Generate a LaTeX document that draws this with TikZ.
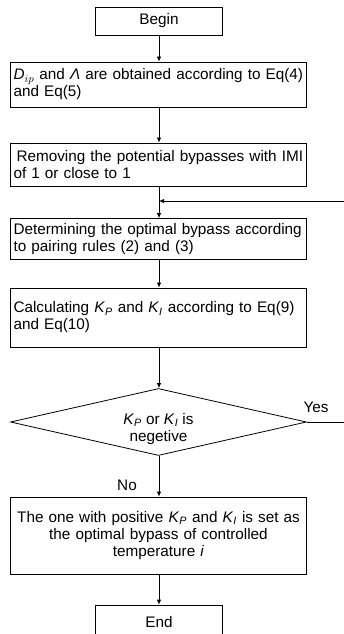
\documentclass[tikz,border=0pt]{standalone}
\usepackage{fontspec}
\setmainfont{Liberation Sans}
\usetikzlibrary{shapes.geometric,arrows.meta}
\begin{document}
\begin{tikzpicture}[x=1pt,y=-1pt,
  font=\fontsize{15.3}{17}\selectfont,
  every node/.style={inner sep=0pt},
  box/.style={draw, line width=0.8pt, text width=290pt, align=left, inner xsep=3pt, inner ysep=0pt},
  cbox/.style={draw, line width=0.8pt, text width=290pt, align=center, inner xsep=3pt, inner ysep=0pt},
  tbox/.style={draw, line width=0.8pt, minimum width=127pt, align=center},
  arr/.style={line width=0.8pt, -{Latex[length=5pt,width=4.5pt]}},
  lbl/.style={align=center}]
\useasboundingbox (0,0) rectangle (344,634);
\clip (0,0) rectangle (344,634);
\fill[white] (0,0) rectangle (344,634);
\node[tbox, minimum height=28pt] (begin) at (159,21) {Begin};
\node[box, minimum height=45pt] (b2) at (158.5,84.5) {\textit{D}$_{ip}$ and \textit{Λ} are obtained according to Eq(4)\\ and Eq(5)};
\node[box, minimum height=43pt] (b3) at (158.5,164.5) {\hspace*{3pt}Removing the potential bypasses with IMI\\ of 1 or close to 1};
\node[box, minimum height=41pt] (b4) at (158.5,239) {Determining the optimal bypass according\\ to pairing rules (2) and (3)};
\node[box, minimum height=59pt] (b5) at (158.5,317.5) {Calculating \textit{K}\textsubscript{\textit{P}} and \textit{K}\textsubscript{\textit{I}} according to Eq(9)\\ and Eq(10)};
\node[diamond, draw, line width=0.8pt, minimum width=296pt, minimum height=67pt] (dia) at (158.5,422) {};
\node[lbl] (diatext) at (158.5,429) {\textit{K}\textsubscript{\textit{P}} or \textit{K}\textsubscript{\textit{I}} is\\ negetive};
\node[cbox, minimum height=77pt] (b6) at (158.5,535.5) {The one with positive \textit{K}\textsubscript{\textit{P}} and \textit{K}\textsubscript{\textit{I}} is set as\\ the optimal bypass of controlled\\ temperature \textit{i}\\[4pt]};
\node[tbox, minimum height=34pt] (end) at (159,622) {End};
\coordinate (fb) at (159,201);
\coordinate (r1) at (350,422);
\coordinate (r2) at (350,201);
\draw[arr] (begin) -- (begin |- b2.north);
\draw[arr] (b2.south -| begin) -- (b3.north -| begin);
\draw[arr] (b3.south -| begin) -- (b4.north -| begin);
\draw[arr] (b4.south -| begin) -- (b5.north -| begin);
\draw[arr] (b5.south -| begin) -- (dia.north -| begin);
\draw[arr] (dia.south -| begin) -- (b6.north -| begin);
\draw[arr] (b6.south -| begin) -- (end);
\draw[arr] (dia.east) -- (r1) -- (r2) -- (fb);
\node[lbl] (yes) at (316,407) {Yes};
\node[lbl] (no) at (127,485) {No};
\end{tikzpicture}
\end{document}
